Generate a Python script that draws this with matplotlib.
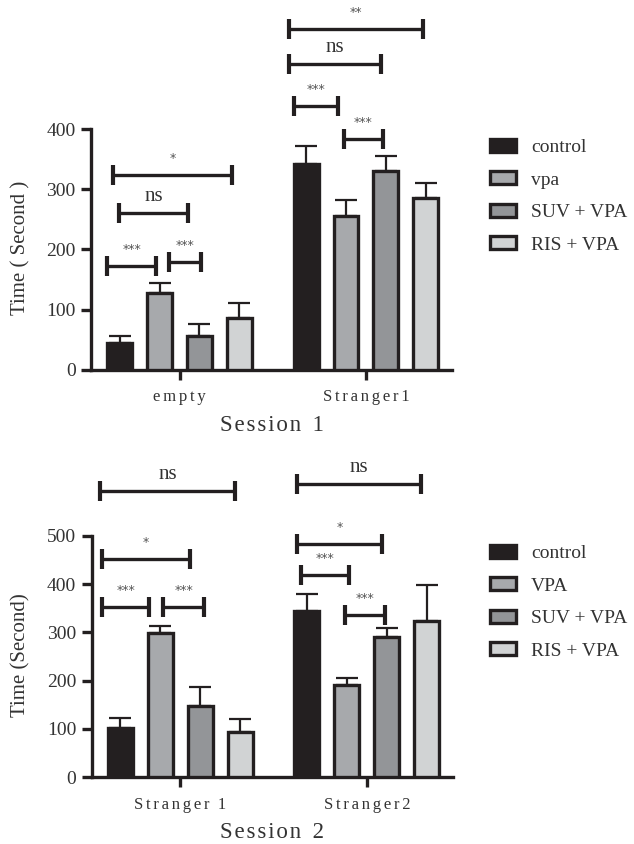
import matplotlib
matplotlib.use("Agg")
import matplotlib.pyplot as plt
from matplotlib.patches import Patch
import numpy as np

FAM = ['Liberation Serif', 'DejaVu Serif']
plt.rcParams['font.family'] = FAM

# ---- data ----
groups1 = ["empty", "Stranger1"]
groups2 = ["Stranger 1", "Stranger2"]
legend1 = ["control", "vpa", "SUV + VPA", "RIS + VPA"]
legend2 = ["control", "VPA", "SUV + VPA", "RIS + VPA"]
colors = ["#231f20", "#a7a9ac", "#939598", "#d1d3d4"]

s1_control = [45, 342]
s1_vpa = [128, 256]
s1_suv = [57, 331]
s1_ris = [86, 285]
s1_control_err = [12, 29]
s1_vpa_err = [17, 26]
s1_suv_err = [20, 25]
s1_ris_err = [25, 26]

s2_control = [103, 345]
s2_vpa = [298, 191]
s2_suv = [148, 291]
s2_ris = [94, 324]
s2_control_err = [19, 34]
s2_vpa_err = [16, 15]
s2_suv_err = [39, 17]
s2_ris_err = [26, 73]

# brackets: (group, start slot, end slot, height, label)
s1_brackets = [
    (0, -0.16, 2.81, 324, "*"),
    (0, -0.01, 1.71, 260, "ns"),
    (0, -0.31, 0.91, 173, "***"),
    (0, 1.24, 2.04, 179, "***"),
    (1, -0.44, 2.94, 566, "**"),
    (1, -0.44, 1.89, 508, "ns"),
    (1, -0.31, 0.79, 438, "***"),
    (1, 0.94, 1.94, 383, "***"),
]
s2_brackets = [
    (0, -0.50, 2.88, 593, "ns"),
    (0, -0.45, 1.75, 452, "*"),
    (0, -0.45, 0.73, 352, "***"),
    (0, 1.08, 2.10, 352, "***"),
    (1, -0.25, 2.85, 607, "ns"),
    (1, -0.25, 1.88, 482, "*"),
    (1, -0.15, 1.05, 419, "***"),
    (1, 0.95, 1.95, 336, "***"),
]

W, H = 634, 844
fig = plt.figure(figsize=(W / 100, H / 100), dpi=100)
renderer = fig.canvas.get_renderer()


def _w(s, fs):
    t = fig.text(0, 0, s, fontsize=fs)
    w = t.get_window_extent(renderer).width
    t.remove()
    return w


def spaced(s, fs, gap_px):
    """Join letters with the unicode space closest to gap_px wide."""
    base = _w("xx", fs)
    best, bestd = "", gap_px
    for c in ["\u200a", "\u2006", "\u2009", "\u2005", "\u2004"]:
        g = _w("x" + c + "x", fs) - base
        if abs(g - gap_px) < bestd:
            best, bestd = c, abs(g - gap_px)
    out = ""
    for i, ch in enumerate(s):
        out += ch
        if i < len(s) - 1 and ch != " " and s[i + 1] != " ":
            out += best
    return out


SP = 40 / 187.0
BW = 25 / 187.0


def panel(rect, ylim, ybound, yticks, groups, series, errs, brackets,
          ylabel, xlabel, legend_labels, leg_y, ppu, ylab_center_px, y0_px):
    ax = fig.add_axes(rect)
    x = np.arange(len(groups))
    for i, (vals, er) in enumerate(zip(series, errs)):
        pos = x + (i - 1.5) * SP
        ax.errorbar(pos, vals, yerr=[np.zeros(len(er)), er], fmt='none',
                    ecolor='#231f20', elinewidth=1.6, capsize=8, capthick=1.6,
                    zorder=2)
        ax.bar(pos, vals, width=BW, color=colors[i], edgecolor='#231f20',
               linewidth=2.4, zorder=3)
    cap = 10 / ppu
    for g, a, b, h, lab in brackets:
        xa = g + (a - 1.5) * SP
        xb = g + (b - 1.5) * SP
        ax.plot([xa, xb], [h, h], color='#231f20', lw=2.4,
                solid_capstyle='butt', clip_on=False, zorder=4)
        for xx in (xa, xb):
            ax.plot([xx, xx], [h - cap, h + cap], color='#231f20', lw=3.0,
                    solid_capstyle='butt', clip_on=False, zorder=4)
        if lab == "ns":
            ax.text((xa + xb) / 2, h + 12 / ppu, lab,
                    ha='center', va='baseline', fontsize=15, color='#333333')
        else:
            ax.text((xa + xb) / 2, h + 10 / ppu, lab, ha='center',
                    va='bottom', fontsize=9, color='#555555',
                    family='DejaVu Sans')
    ax.set_xlim(-0.475, 1.462)
    ax.set_ylim(*ylim)
    for s in ('top', 'right'):
        ax.spines[s].set_visible(False)
    ax.spines['left'].set_bounds(*ybound)
    for s in ('left', 'bottom'):
        ax.spines[s].set_linewidth(2.4)
        ax.spines[s].set_color('#231f20')
    ax.set_yticks(yticks)
    ax.set_yticklabels([str(t) for t in yticks], fontsize=14, color='#333333')
    ax.set_xticks(x)
    ax.set_xticklabels([spaced(gname.replace(" ", "  "), 12, 2.4)
                        for gname in groups],
                       fontsize=12, color='#333333')
    ax.tick_params(axis='both', width=2.4, length=7, color='#231f20')
    ax.tick_params(axis='x', pad=7)
    ax.tick_params(axis='y', pad=4)
    ax.set_ylabel(ylabel, fontsize=15, color='#333333')
    ax.yaxis.set_label_coords((30 - rect[0] * W) / (rect[2] * W),
                              (y0_px - ylab_center_px) / (rect[3] * H))
    ax.set_xlabel(spaced(xlabel.replace(" ", "  "), 16.5, 2.5),
                  fontsize=16.5, color='#333333', labelpad=7)
    handles = [Patch(facecolor=c, edgecolor='#231f20', linewidth=2.4)
               for c in colors]
    fig.legend(handles, legend_labels, loc='upper left',
               bbox_to_anchor=(490 / W, 1 - leg_y / H), frameon=False,
               fontsize=14, handlelength=1.35, handleheight=0.65,
               labelspacing=0.78, handletextpad=0.75, borderpad=0,
               borderaxespad=0, labelcolor='#333333')
    return ax


ppu1 = 241 / 400.0
top_px = 5
ymax1 = (370 - top_px) / ppu1
panel([91 / W, 1 - 370 / H, (452 - 91) / W, (370 - top_px) / H],
      (0, ymax1), (0, 400), [0, 100, 200, 300, 400], groups1,
      [s1_control, s1_vpa, s1_suv, s1_ris],
      [s1_control_err, s1_vpa_err, s1_suv_err, s1_ris_err], s1_brackets,
      "Time ( Second )", "Session 1", legend1, 139, ppu1, 248, 370)

ppu2 = 241.6 / 500.0
top2 = 458
ymax2 = (777.3 - top2) / ppu2
panel([91.5 / W, 1 - 777.3 / H, (453 - 91.5) / W, (777.3 - top2) / H],
      (0, ymax2), (0, 500), [0, 100, 200, 300, 400, 500], groups2,
      [s2_control, s2_vpa, s2_suv, s2_ris],
      [s2_control_err, s2_vpa_err, s2_suv_err, s2_ris_err], s2_brackets,
      "Time (Second)", "Session 2", legend2, 545, ppu2, 655, 777.3)

fig.savefig("out.png", dpi=100)
